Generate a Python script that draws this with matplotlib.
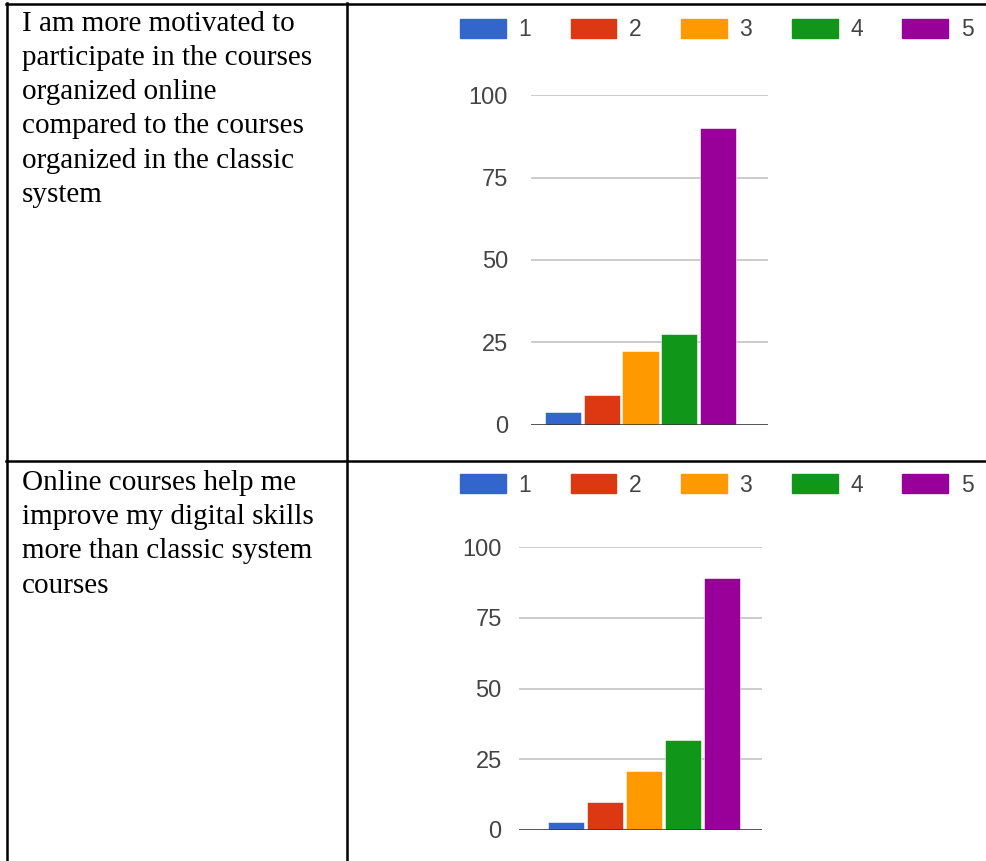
import matplotlib
matplotlib.use("Agg")
import matplotlib.pyplot as plt
from matplotlib.lines import Line2D
from matplotlib.patches import Patch

# survey statements (left column) and answer counts per Likert score
statement_1 = ["I am more motivated to", "participate in the courses", "organized online",
               "compared to the courses", "organized in the classic", "system"]
statement_2 = ["Online courses help me", "improve my digital skills",
               "more than classic system", "courses"]
scores = ["1", "2", "3", "4", "5"]
counts_1 = [4, 9, 22.5, 27.5, 90]
counts_2 = [3, 10, 21, 32, 89]
yticks = [0, 25, 50, 75, 100]
colors = ["#3366cc", "#dc3912", "#ff9900", "#109618", "#990099"]

W, H = 986, 861
fig = plt.figure(figsize=(W / 100, H / 100), dpi=100)


def px_rect(x0, y0, x1, y1):
    # pixel box (top-left origin) -> figure fraction
    return [x0 / W, 1 - y1 / H, (x1 - x0) / W, (y1 - y0) / H]


def hline(y, x0, x1):
    fig.add_artist(Line2D([x0 / W, x1 / W], [1 - y / H, 1 - y / H], color="black", lw=1.8))


def vline(x, y0, y1):
    fig.add_artist(Line2D([x / W, x / W], [1 - y0 / H, 1 - y1 / H], color="black", lw=1.8))


# table grid
hline(4.2, 6, W)
hline(460.5, 6, W)
vline(7, 3.3, H)
vline(346.5, 3.3, H)

# statements in the left column
for lines, base in [(statement_1, 30.7), (statement_2, 490.0)]:
    for i, t in enumerate(lines):
        fig.text(22 / W, 1 - (base + i * 34.2) / H, t, fontsize=21,
                 family="Liberation Serif", va="baseline", ha="left", color="black")


def bar_chart(rect, counts, xlim, label_pad, legend_y):
    ax = fig.add_axes(rect)
    x = range(len(counts))
    ax.bar(x, counts, width=0.93, color=colors, edgecolor="white", linewidth=0.4, zorder=3)
    ax.set_xlim(*xlim)
    ax.set_ylim(0, 100)
    ax.set_yticks(yticks)
    ax.set_xticks([])
    ax.grid(axis="y", color="#cccccc", lw=1.4, zorder=0)
    ax.axhline(0, color="#333333", lw=1.8, zorder=4)
    for s in ax.spines.values():
        s.set_visible(False)
    ax.tick_params(axis="y", length=0, pad=label_pad, labelsize=17, labelcolor="#444444")
    for lab in ax.get_yticklabels():
        lab.set_family("Liberation Sans")
    handles = [Patch(facecolor=c, edgecolor=c) for c in colors]
    fig.legend(handles, scores, loc="center left", bbox_to_anchor=(460 / W, 1 - legend_y / H),
               ncols=5, frameon=False, handlelength=2.0, handleheight=0.9,
               handletextpad=0.55, columnspacing=1.72, borderaxespad=0, borderpad=0,
               prop={"family": "Liberation Sans", "size": 16.5}, labelcolor="#444444")
    return ax


bar_chart(px_rect(531, 95, 768, 425), counts_1, (-0.826, 5.29), 16.5, 30)
bar_chart(px_rect(519.3, 547.3, 762, 830), counts_2, (-1.21, 5.03), 12.7, 485)

fig.savefig("out.png", dpi=100)
